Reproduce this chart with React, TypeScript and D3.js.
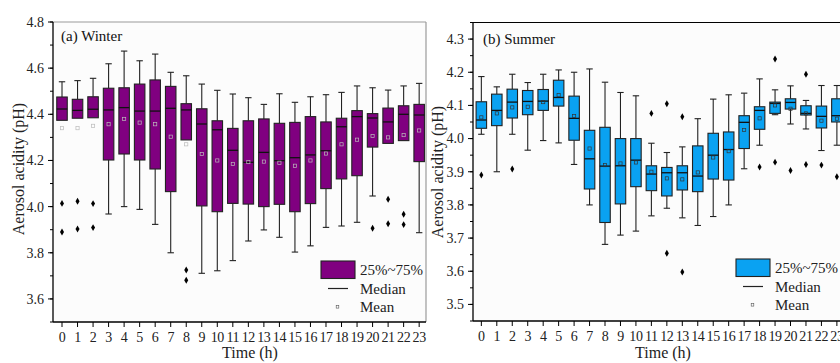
import React from "react";
import * as d3 from "d3";

const W = 840;
const H = 363;
const FONT = "'Liberation Serif', 'Times New Roman', serif";

const hours = d3.range(0, 24);

// Winter (a)
const winterHigh = [4.541, 4.546, 4.556, 4.619, 4.674, 4.632, 4.661, 4.582, 4.567, 4.531, 4.504, 4.488, 4.472, 4.443, 4.489, 4.452, 4.476, 4.485, 4.495, 4.523, 4.515, 4.505, 4.523, 4.534];
const winterQ3 = [4.475, 4.465, 4.476, 4.513, 4.515, 4.531, 4.549, 4.521, 4.446, 4.424, 4.372, 4.339, 4.372, 4.38, 4.361, 4.365, 4.39, 4.367, 4.383, 4.416, 4.403, 4.427, 4.437, 4.443];
const winterMedian = [4.423, 4.417, 4.422, 4.419, 4.429, 4.414, 4.414, 4.426, 4.419, 4.358, 4.333, 4.244, 4.192, 4.235, 4.199, 4.212, 4.224, 4.242, 4.346, 4.39, 4.384, 4.367, 4.4, 4.397];
const winterQ1 = [4.374, 4.383, 4.385, 4.202, 4.228, 4.202, 4.163, 4.065, 4.289, 4.003, 3.978, 4.014, 4.011, 4.0, 4.01, 3.978, 4.013, 4.078, 4.12, 4.134, 4.258, 4.274, 4.286, 4.195];
const winterLow = [4.374, 4.383, 4.385, 3.968, 4.0, 3.988, 3.923, 3.8, 4.289, 3.711, 3.722, 3.766, 3.851, 3.899, 3.867, 3.803, 3.83, 3.91, 3.916, 3.932, 4.046, 4.274, 4.286, 3.887];
const winterMean = [4.34, 4.34, 4.35, 4.357, 4.38, 4.364, 4.357, 4.303, 4.27, 4.228, 4.2, 4.185, 4.193, 4.195, 4.19, 4.177, 4.2, 4.23, 4.27, 4.29, 4.306, 4.3, 4.31, 4.33];
const winterOutliers: [number, number][] = [
  [0, 4.014], [0, 3.89], [1, 4.023], [1, 3.903], [2, 4.013], [2, 3.909],
  [8, 3.725], [8, 3.681], [20, 3.906], [21, 4.032], [21, 3.926], [22, 3.967], [22, 3.922],
];
const winterTicks = [3.6, 3.8, 4.0, 4.2, 4.4, 4.6, 4.8];

// Summer (b)
const summerHigh = [4.187, 4.156, 4.194, 4.169, 4.194, 4.207, 4.2, 4.21, 4.17, 4.139, 4.129, 3.986, 3.958, 3.975, 4.06, 4.119, 4.132, 4.137, 4.18, 4.147, 4.159, 4.115, 4.16, 4.16];
const summerQ3 = [4.111, 4.134, 4.149, 4.145, 4.148, 4.176, 4.128, 4.025, 4.034, 4.0, 4.0, 3.918, 3.913, 3.918, 3.978, 4.016, 4.02, 4.069, 4.096, 4.11, 4.12, 4.099, 4.098, 4.12];
const summerMedian = [4.056, 4.085, 4.11, 4.112, 4.113, 4.124, 4.061, 3.939, 3.917, 3.918, 3.935, 3.893, 3.897, 3.897, 3.887, 3.95, 3.967, 4.049, 4.085, 4.106, 4.109, 4.076, 4.067, 4.069];
const summerQ1 = [4.031, 4.039, 4.062, 4.072, 4.085, 4.098, 3.995, 3.848, 3.747, 3.803, 3.855, 3.843, 3.827, 3.845, 3.84, 3.878, 3.875, 3.97, 4.028, 4.076, 4.089, 4.071, 4.032, 4.05];
const summerLow = [4.013, 3.9, 4.013, 3.965, 3.994, 3.987, 3.922, 3.8, 3.681, 3.709, 3.721, 3.767, 3.79, 3.761, 3.738, 3.765, 3.8, 3.909, 3.98, 4.072, 4.044, 4.029, 3.964, 3.98];
const summerMean = [4.064, 4.076, 4.094, 4.096, 4.11, 4.131, 4.068, 3.97, 3.92, 3.925, 3.928, 3.9, 3.88, 3.877, 3.898, 3.943, 3.962, 4.026, 4.061, 4.1, 4.09, 4.076, 4.054, 4.06];
const summerOutliers: [number, number][] = [
  [0, 3.89], [2, 3.908], [11, 4.076], [12, 4.105], [12, 3.654], [13, 4.066], [13, 3.598],
  [18, 3.914], [19, 4.24], [19, 3.929], [20, 3.904], [21, 4.194], [21, 3.922], [22, 3.92], [23, 3.885],
];
const summerTicks = [3.5, 3.6, 3.7, 3.8, 3.9, 4.0, 4.1, 4.2, 4.3];

const Panel = ({ cfg }: { cfg: any }) => {
  const x = d3.scaleLinear().domain(cfg.xDomain).range(cfg.xRange);
  const y = d3.scaleLinear().domain(cfg.yDomain).range(cfg.yRange);
  const [x0, x1] = cfg.xRange;
  const [yb, yt] = cfg.yRange;
  const bw = 10.5;
  const cap = 3.2;
  const diamond = d3.symbol().type(d3.symbolDiamond).size(14)();
  return (
    <g fontFamily={FONT}>
      <rect x={x0} y={yt} width={x1 - x0} height={yb - yt} fill="#fcfcfc" />
      {/* frame top / right */}
      <line x1={x0} x2={x1} y1={yt} y2={yt} stroke={cfg.frame} strokeWidth={1.2} />
      <line x1={x1} x2={x1} y1={yt} y2={yb} stroke={cfg.frame} strokeWidth={1.2} />
      {hours.map((h) => {
        const cx = x(h);
        return (
          <g key={h}>
            <line x1={cx} x2={cx} y1={y(cfg.high[h])} y2={y(cfg.q3[h])} stroke="#222" strokeWidth={1.1} />
            <line x1={cx - cap} x2={cx + cap} y1={y(cfg.high[h])} y2={y(cfg.high[h])} stroke="#222" strokeWidth={1.1} />
            {cfg.low[h] < cfg.q1[h] && (
              <>
                <line x1={cx} x2={cx} y1={y(cfg.q1[h])} y2={y(cfg.low[h])} stroke="#222" strokeWidth={1.1} />
                <line x1={cx - cap} x2={cx + cap} y1={y(cfg.low[h])} y2={y(cfg.low[h])} stroke="#222" strokeWidth={1.1} />
              </>
            )}
            <rect
              x={cx - bw / 2}
              y={y(cfg.q3[h])}
              width={bw}
              height={y(cfg.q1[h]) - y(cfg.q3[h])}
              fill={cfg.color}
              stroke="#222"
              strokeWidth={1.1}
            />
            <line x1={cx - bw / 2} x2={cx + bw / 2} y1={y(cfg.median[h])} y2={y(cfg.median[h])} stroke="#111" strokeWidth={1.3} />
            <rect x={cx - 1.6} y={y(cfg.mean[h]) - 1.6} width={3.2} height={3.2} fill="none" stroke={cfg.meanColor} strokeWidth={0.7} />
          </g>
        );
      })}
      {cfg.outliers.map(([h, v]: [number, number], i: number) => (
        <path key={i} d={diamond as string} transform={`translate(${x(h)},${y(v)})`} fill="#000" />
      ))}
      {/* axes */}
      <line x1={x0} x2={x0} y1={yt} y2={yb} stroke="#000" strokeWidth={1.3} />
      <line x1={x0} x2={x1} y1={yb} y2={yb} stroke="#000" strokeWidth={1.3} />
      {cfg.minor.map((v: number, i: number) => (
        <line key={i} x1={x0 - 3} x2={x0} y1={y(v)} y2={y(v)} stroke="#000" strokeWidth={1} />
      ))}
      {cfg.ticks.map((v: number) => (
        <g key={v}>
          <line x1={x0 - 5} x2={x0} y1={y(v)} y2={y(v)} stroke="#000" strokeWidth={1} />
          <text x={x0 - 9} y={y(v)} dy="0.35em" textAnchor="end" fontSize={14} fill="#222">
            {v.toFixed(1)}
          </text>
        </g>
      ))}
      {hours.map((h) => (
        <g key={h}>
          <line x1={x(h)} x2={x(h)} y1={yb} y2={yb + 5} stroke="#000" strokeWidth={1} />
          <text x={x(h)} y={yb + 20} textAnchor="middle" fontSize={14} fill="#222" letterSpacing={-0.4}>
            {h}
          </text>
        </g>
      ))}
      <text x={cfg.titleX} y={cfg.titleY} fontSize={15} fill="#111">{cfg.title}</text>
      <text
        transform={`translate(${cfg.yLabelX},${cfg.yLabelY}) rotate(-90)`}
        textAnchor="middle"
        fontSize={16}
        fill="#222"
      >
        Aerosol acidity (pH)
      </text>
      <text x={cfg.xLabelX} y={358} textAnchor="middle" fontSize={16} fill="#222">Time (h)</text>
      {/* legend */}
      <g transform={`translate(${cfg.legX},${cfg.legY})`}>
        <rect x={0} y={0} width={34} height={17.5} fill={cfg.color} stroke="#222" strokeWidth={1.1} />
        <text x={39} y={9} dy="0.35em" fontSize={15} fill="#222">25%~75%</text>
        <line x1={7} x2={27} y1={27.5} y2={27.5} stroke="#222" strokeWidth={1.2} />
        <text x={39} y={27.5} dy="0.35em" fontSize={15} fill="#222">Median</text>
        <rect x={15.2} y={44.5} width={2.6} height={2.6} fill="none" stroke="#555" strokeWidth={0.6} />
        <text x={39} y={46} dy="0.35em" fontSize={15} fill="#222">Mean</text>
      </g>
    </g>
  );
};

const minorOf = (lo: number, hi: number, step: number) =>
  d3.range(Math.round(lo / step), Math.round(hi / step) + 1).map((k) => k * step);

const winterCfg = {
  xDomain: [-0.58, 23.44], xRange: [53, 426],
  yDomain: [3.5, 4.8], yRange: [322, 22],
  high: winterHigh, q3: winterQ3, median: winterMedian, q1: winterQ1, low: winterLow, mean: winterMean,
  outliers: winterOutliers, ticks: winterTicks, minor: minorOf(3.5, 4.8, 0.1),
  color: "#800080", meanColor: "#bbb", frame: "#9a9a9a",
  title: "(a) Winter", titleX: 61, titleY: 41,
  yLabelX: 24, yLabelY: 169, xLabelX: 250,
  legX: 321, legY: 261,
};

const summerCfg = {
  xDomain: [-0.54, 23.46], xRange: [473, 844],
  yDomain: [3.45, 4.35], yRange: [321, 22.5],
  high: summerHigh, q3: summerQ3, median: summerMedian, q1: summerQ1, low: summerLow, mean: summerMean,
  outliers: summerOutliers, ticks: summerTicks, minor: minorOf(3.45, 4.35, 0.05),
  color: "#0aa2f2", meanColor: "#333", frame: "#000",
  title: "(b) Summer", titleX: 483, titleY: 44,
  yLabelX: 443, yLabelY: 172, xLabelX: 663,
  legX: 736, legY: 259,
};

export default function App() {
  return (
    <svg width={W} height={H} style={{ position: "absolute", left: 0, top: 0, background: "#fff" }}>
      <Panel cfg={winterCfg} />
      <Panel cfg={summerCfg} />
    </svg>
  );
}
